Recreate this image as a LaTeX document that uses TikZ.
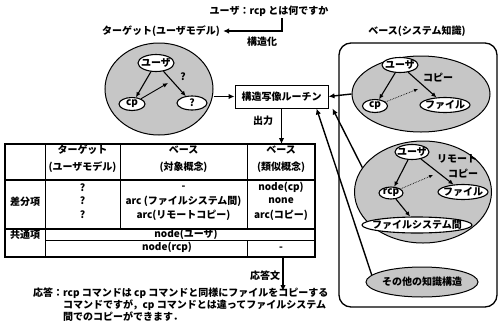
\documentclass[tikz,border=0pt]{standalone}
\usepackage{fontspec}
\setmainfont{Noto Sans CJK JP}
\usetikzlibrary{shapes.geometric, arrows.meta, calc}
\begin{document}
\begin{tikzpicture}[x=1pt, y=-1pt,
  every node/.style={font=\fontsize{10}{12}\selectfont\bfseries, inner sep=0pt},
  arr/.style={line width=1.4pt, -{Latex[length=6pt,width=5.5pt]}},
  iarr/.style={line width=1.1pt, -{Latex[length=5pt,width=4.5pt]}},
  darr/.style={line width=0.7pt, densely dotted, -{Latex[length=4pt,width=3.5pt]}},
  inel/.style={ellipse, draw, line width=1.1pt, fill=white, inner sep=0pt},
  bigel/.style={ellipse, draw, line width=1pt, fill=gray!45, inner sep=0pt},
  tl/.style={line width=0.8pt},
  tb/.style={line width=1.3pt}
]
\useasboundingbox (0,0) rectangle (499,333);

% top question and structuring
\node (q) at (269,11) {ユーザ：rcp とは何ですか};
\node (tgt) at (161,31) {ターゲット(ユーザモデル)};
\node (struct) at (262,42) {構造化};
\coordinate (qb) at (282,18);
\draw[arr] (qb) |- ([xshift=3pt]tgt.east);

% knowledge base container
\node (kbl) at (417,31) {ベース(システム知識)};
\node[draw, line width=1.3pt, rounded corners=12pt, minimum width=158pt, minimum height=264pt] (kb) at (418,175) {};

% target model
\node[bigel, minimum width=108pt, minimum height=92pt] (tell) at (159,89) {};
\node[inel, minimum width=36pt, minimum height=17pt] (tu) at (156,63) {\makebox[0pt]{ユーザ}};
\node[inel, minimum width=26pt, minimum height=13pt] (tcp) at (132,104) {\makebox[0pt]{cp}};
\node[inel, minimum width=30pt, minimum height=14pt] (tq) at (192,103) {\makebox[0pt]{?}};
\node (tql) at (183,77) {?};
\coordinate (tm) at (168,83);
\draw[iarr] (tu) -- (tcp);
\draw[iarr] (tu) -- (tq);
\draw[iarr, line width=0.9pt] (tcp) -- (tm);

% mapping routine
\node[draw, line width=1pt, minimum width=93pt, minimum height=23pt] (box) at (281.5,96.5) {構造写像ルーチン};
\draw[arr] (box.west -| tell.east) -- (box.west);

% base 1
\node[bigel, minimum width=138pt, minimum height=76pt] (b1) at (421,94) {};
\node[inel, minimum width=36pt, minimum height=15pt] (b1u) at (400,65) {\makebox[0pt]{ユーザ}};
\node[inel, minimum width=25pt, minimum height=13pt] (b1cp) at (375,106) {\makebox[0pt]{cp}};
\node[inel, minimum width=50pt, minimum height=15pt] (b1f) at (445,105) {\makebox[0pt]{ファイル}};
\node (b1l) at (438,78) {コピー};
\coordinate (b1m) at (418,89);
\draw[iarr] (b1u) -- (b1cp);
\draw[iarr] (b1u) -- (b1f);
\draw[darr] (b1cp) -- (b1m);
\draw[arr] (b1.west) -- (box.east);

% base 2
\node[bigel, minimum width=137pt, minimum height=102pt] (b2) at (423,192) {};
\node[inel, minimum width=34pt, minimum height=15pt] (b2u) at (412,152) {\makebox[0pt]{ユーザ}};
\node[inel, minimum width=24pt, minimum height=12pt] (b2r) at (391,193) {\makebox[0pt]{rcp}};
\node[inel, minimum width=50pt, minimum height=15pt] (b2f) at (463,192) {\makebox[0pt]{ファイル}};
\node[inel, minimum width=110pt, minimum height=16pt] (b2s) at (417,225) {\makebox[0pt]{ファイルシステム間}};
\node (b2l1) at (457,159) {リモート};
\node (b2l2) at (463,174) {コピー};
\coordinate (b2m) at (433,175);
\draw[iarr] (b2u) -- (b2r);
\draw[iarr] (b2u) -- (b2f);
\draw[darr] (b2r) -- (b2m);
\draw[iarr] (b2r) -- (b2s);

% other knowledge
\node[bigel, minimum width=112pt, minimum height=30pt] (oth) at (422,282) {\makebox[0pt]{その他の知識構造}};
\draw[arr] (oth.172) -- ([xshift=-12pt]box.south east);
\draw[arr] (b2.158) -- ([xshift=4pt]box.south east);

% output
\node (out) at (263,121) {出力};
\coordinate (ttop) at (281.5,144);
\draw[arr] (box.south) -- (ttop);

% table
\draw[tb] (5,144) rectangle (315,257);
\draw[tb] (5,180) -- (315,180);
\draw[tb] (5,229) -- (315,229);
\draw[tl] (45,240) -- (315,240);
\draw[tl] (45,144) -- (45,257);
\draw[tl] (120,144) -- (120,229);
\draw[tl] (247,144) -- (247,229);
\draw[tl] (247,240) -- (247,257);

\node (h2a) at (82.5,150) {ターゲット};
\node (h2b) at (82.5,167) {(ユーザモデル)};
\node (h3a) at (183.5,150) {ベース};
\node (h3b) at (183.5,167) {(対象概念)};
\node (h4a) at (281,150) {ベース};
\node (h4b) at (281,167) {(類似概念)};
\node (c1a) at (25,202) {差分項};
\node (c1b) at (25,235) {共通項};
\node (c2a) at (82.5,188) {?};
\node (c2b) at (82.5,201) {?};
\node (c2c) at (82.5,215) {?};
\node (c3a) at (183.5,188) {-};
\node (c3b) at (183.5,201) {arc (ファイルシステム間)};
\node (c3c) at (183.5,215) {arc(リモートコピー)};
\node (c4a) at (281,187) {node(cp)};
\node (c4b) at (281,201) {none};
\node (c4c) at (281,215) {arc(コピー)};
\node (cu) at (186,234) {node(ユーザ)};
\node (cr) at (167,247) {node(rcp)};
\node (cd) at (281,249) {-};

% answer
\node (ans) at (265,276) {応答文};
\coordinate (tbot) at (283,257);
\coordinate (rtop) at (283,291);
\draw[arr] (tbot) -- (rtop);
\node[anchor=west] (r1) at (33,293) {応答：rcp コマンドは cp コマンドと同様にファイルをコピーする};
\node[anchor=west] (r2) at (63,305) {コマンドですが，cp コマンドとは違ってファイルシステム};
\node[anchor=west] (r3) at (63,317) {間でのコピーができます．};
\end{tikzpicture}
\end{document}
